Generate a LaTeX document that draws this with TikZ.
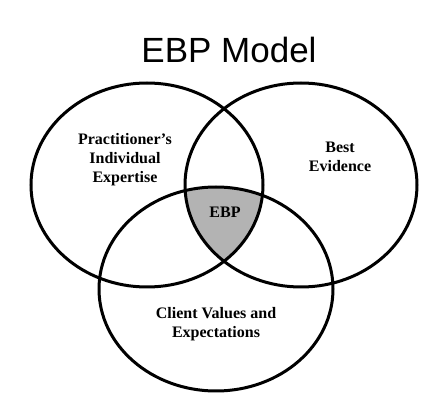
\documentclass[tikz,border=0pt]{standalone}
\usepackage{fontspec}
\setmainfont{Liberation Serif}
\newfontfamily\titlefont{Liberation Sans}
\usepackage{tikz}
\usetikzlibrary{positioning}
\definecolor{mGray}{HTML}{B3B3B3}

\begin{document}
\begin{tikzpicture}[x=1pt, y=-1pt,
      ring/.style={line width=3pt},
      lbl/.style={align=center, font=\fontsize{16}{19}\selectfont\bfseries, inner sep=0pt}]
    \useasboundingbox (0,0) rectangle (445,414);
    % shaded core: inside all three sets
    \begin{scope}
      \clip (147,185) ellipse [x radius=116, y radius=102];
      \clip (301,185) ellipse [x radius=116, y radius=102];
      \fill[mGray] (216,289) ellipse [x radius=117, y radius=102];
    \end{scope}
    \draw[ring] (147,185) ellipse [x radius=116, y radius=102];
    \draw[ring] (301,185) ellipse [x radius=116, y radius=102];
    \draw[ring] (216,289) ellipse [x radius=117, y radius=102];
    \node[font=\titlefont\fontsize{35}{40}\selectfont, inner sep=0pt] (title) at (229,50) {EBP Model};
    \node[lbl] (expert) at (125,160) {Practitioner's\\Individual\\Expertise};
    \node[lbl] (evid) at (340,157) {Best\\Evidence};
    \node[lbl] (ebp) at (225,212) {EBP};
    \node[lbl] (client) at (216,324) {Client Values and\\Expectations};
\end{tikzpicture}
\end{document}
